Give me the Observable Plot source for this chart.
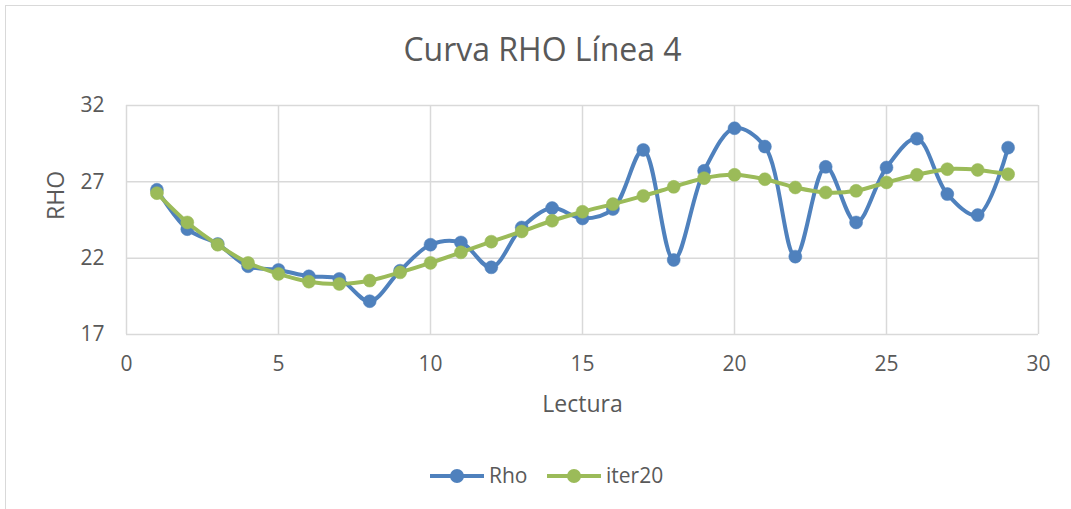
<!DOCTYPE html>
<html>
<head>
<meta charset="utf-8">
<script src="https://cdn.jsdelivr.net/npm/d3@7"></script>
<script src="https://cdn.jsdelivr.net/npm/@observablehq/plot@0.6"></script>
<style>
  html, body { margin: 0; padding: 0; background: #fff; }
  #wrap { position: relative; width: 1071px; height: 509px; overflow: hidden; font-family: "Open Sans", sans-serif; color: #595959; }
  #border { position: absolute; left: 5px; top: 5px; width: 1100px; height: 600px; border: 1.5px solid #d9d9d9; box-sizing: border-box; }
  #title { position: absolute; left: 0; width: 1085px; top: 27px; text-align: center; font-size: 32px; line-height: 44px; color: #595959; }
  #chart { position: absolute; left: 0; top: 85px; }
  #legend { position: absolute; left: 0; top: 460px; }
</style>
</head>
<body>
<div id="wrap">
  <div id="border"></div>
  <div id="title">Curva RHO Línea 4</div>
  <div id="chart"></div>
  <svg id="legend" width="1071" height="34"></svg>
</div>
<script>
const lectura = [1,2,3,4,5,6,7,8,9,10,11,12,13,14,15,16,17,18,19,20,21,22,23,24,25,26,27,28,29];
const rho = [26.48, 23.90, 22.93, 21.47, 21.23, 20.81, 20.64, 19.18, 21.18, 22.88, 23.03, 21.40, 24.01, 25.28, 24.60, 25.22, 29.09, 21.88, 27.72, 30.51, 29.31, 22.10, 27.98, 24.34, 27.94, 29.83, 26.20, 24.82, 29.24];
const iter20 = [26.26, 24.34, 22.88, 21.69, 20.97, 20.46, 20.31, 20.53, 21.07, 21.69, 22.38, 23.08, 23.75, 24.45, 25.04, 25.54, 26.08, 26.67, 27.24, 27.46, 27.17, 26.63, 26.30, 26.41, 26.96, 27.46, 27.83, 27.78, 27.50];
const xTicks = [0, 5, 10, 15, 20, 25, 30];
const yTicks = [17, 22, 27, 32];
const seriesNames = ["Rho", "iter20"];
const seriesColors = ["#4f81bd", "#9bbb59"];

const rhoData = lectura.map((x, i) => ({x, y: rho[i]}));
const iterData = lectura.map((x, i) => ({x, y: iter20[i]}));

const chart = Plot.plot({
  width: 1071,
  height: 340,
  marginTop: 20,
  marginBottom: 91,
  marginLeft: 126,
  marginRight: 33,
  style: { fontFamily: "Open Sans, sans-serif", fontSize: "21px", color: "#595959", background: "transparent" },
  x: { domain: [0, 30] },
  y: { domain: [17, 32] },
  marks: [
    Plot.gridX(xTicks, { stroke: "#d9d9d9", strokeOpacity: 1, strokeWidth: 1.5 }),
    Plot.gridY(yTicks, { stroke: "#d9d9d9", strokeOpacity: 1, strokeWidth: 1.5 }),
    Plot.axisX({ ticks: xTicks, tickSize: 0, tickPadding: 22, label: null, fill: "#595959" }),
    Plot.axisY({ ticks: yTicks, tickSize: 0, tickPadding: 22, label: null, fill: "#595959" }),
    Plot.text(["Lectura"], { frameAnchor: "bottom", dy: 70, lineAnchor: "middle", fontSize: 23, fill: "#595959" }),
    Plot.text(["RHO"], { frameAnchor: "left", dx: -70, rotate: -90, lineAnchor: "middle", fontSize: 23, fill: "#595959" }),
    Plot.line(rhoData, { x: "x", y: "y", stroke: seriesColors[0], strokeWidth: 4, curve: "catmull-rom" }),
    Plot.dot(rhoData, { x: "x", y: "y", r: 6.5, fill: seriesColors[0], stroke: seriesColors[0], strokeWidth: 0.5 }),
    Plot.line(iterData, { x: "x", y: "y", stroke: seriesColors[1], strokeWidth: 4, curve: "catmull-rom" }),
    Plot.dot(iterData, { x: "x", y: "y", r: 6.5, fill: seriesColors[1], stroke: seriesColors[1], strokeWidth: 0.5 })
  ]
});
document.getElementById("chart").appendChild(chart);

// Legend
const leg = d3.select("#legend");
const legItems = [
  { name: seriesNames[0], color: seriesColors[0], x0: 430, x1: 484, tx: 489 },
  { name: seriesNames[1], color: seriesColors[1], x0: 547, x1: 601, tx: 606 }
];
legItems.forEach(d => {
  leg.append("line").attr("x1", d.x0).attr("x2", d.x1).attr("y1", 16).attr("y2", 16)
    .attr("stroke", d.color).attr("stroke-width", 4);
  leg.append("circle").attr("cx", (d.x0 + d.x1) / 2).attr("cy", 16).attr("r", 7).attr("fill", d.color);
  leg.append("text").attr("x", d.tx).attr("y", 16).attr("dy", "0.35em")
    .attr("font-family", "Open Sans, sans-serif").attr("font-size", 21).attr("fill", "#595959").text(d.name);
});
</script>
</body>
</html>
